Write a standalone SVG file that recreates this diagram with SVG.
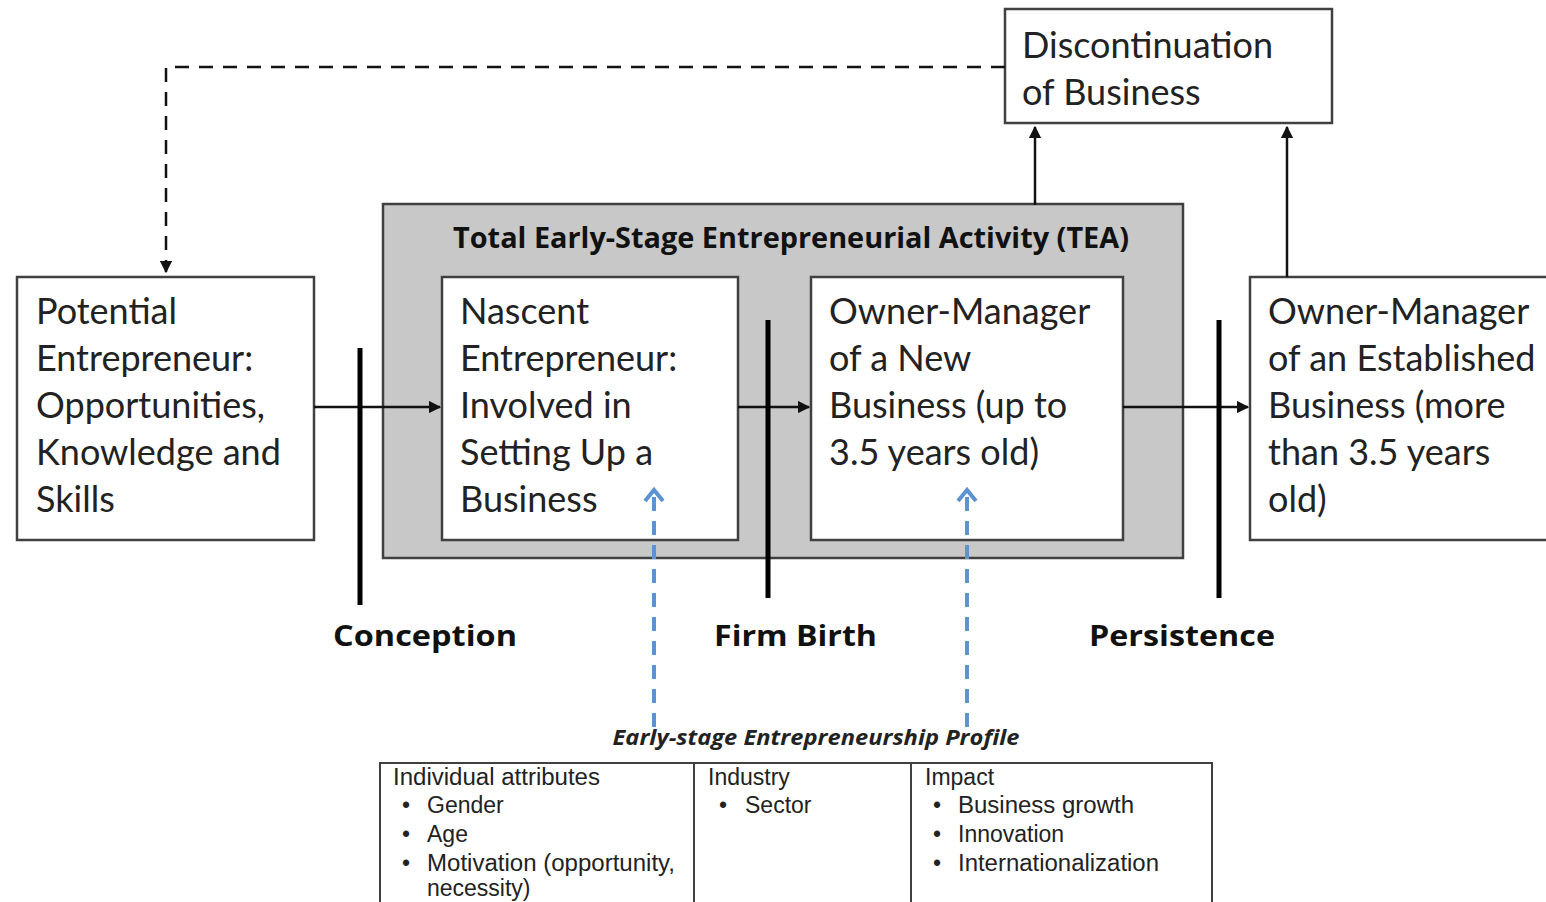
<svg xmlns="http://www.w3.org/2000/svg" width="1546" height="902" viewBox="0 0 1546 902">
<defs>
<style>
.box{fill:#fff;stroke:#404040;stroke-width:2.5}
.t{font-family:Lato,"Open Sans",sans-serif;font-size:36px;fill:#222}
.b{font-family:"Open Sans",Lato,sans-serif;font-size:29px;font-weight:bold;fill:#111}
.tb{font-family:"Liberation Sans",Arial,sans-serif;font-size:23px;fill:#222}
.ln{stroke:#111;stroke-width:2.5;fill:none}
.bar{stroke:#000;stroke-width:5}
.blue{stroke:#5b93d3;stroke-width:4;fill:none}
</style>
<marker id="ah" viewBox="0 0 10 10" refX="9" refY="5" markerWidth="5" markerHeight="5" orient="auto"><path d="M0,0 L10,5 L0,10 z" fill="#111"/></marker>
<marker id="ahb" viewBox="0 0 10 10" refX="8" refY="5" markerWidth="4" markerHeight="4" orient="auto"><path d="M1,1 L8,5 L1,9" fill="none" stroke="#5b93d3" stroke-width="2"/></marker>
</defs>
<rect width="1546" height="902" fill="#fff"/>

<g id="tea">
<rect x="383" y="204" width="800" height="354" fill="#c8c8c8" stroke="#404040" stroke-width="2.5"/>
<text class="b" x="791" y="248" text-anchor="middle" font-size="27" textLength="676" lengthAdjust="spacingAndGlyphs">Total Early-Stage Entrepreneurial Activity (TEA)</text>
</g>

<g id="potential">
<rect class="box" x="17" y="277" width="297" height="263"/>
<text class="t" x="36" y="324">Potential</text>
<text class="t" x="36" y="371">Entrepreneur:</text>
<text class="t" x="36" y="418">Opportunities,</text>
<text class="t" x="36" y="465">Knowledge and</text>
<text class="t" x="36" y="512">Skills</text>
</g>

<g id="nascent">
<rect class="box" x="442" y="277" width="296" height="263"/>
<text class="t" x="460" y="324">Nascent</text>
<text class="t" x="460" y="371">Entrepreneur:</text>
<text class="t" x="460" y="418">Involved in</text>
<text class="t" x="460" y="465">Setting Up a</text>
<text class="t" x="460" y="512">Business</text>
</g>

<g id="newbiz">
<rect class="box" x="811" y="277" width="312" height="263"/>
<text class="t" x="829" y="324">Owner-Manager</text>
<text class="t" x="829" y="371">of a New</text>
<text class="t" x="829" y="418">Business (up to</text>
<text class="t" x="829" y="465">3.5 years old)</text>
</g>

<g id="established">
<rect class="box" x="1250" y="277" width="310" height="263"/>
<text class="t" x="1268" y="324">Owner-Manager</text>
<text class="t" x="1268" y="371">of an Established</text>
<text class="t" x="1268" y="418">Business (more</text>
<text class="t" x="1268" y="465">than 3.5 years</text>
<text class="t" x="1268" y="512">old)</text>
</g>

<g id="discontinuation">
<rect class="box" x="1005" y="9" width="327" height="114"/>
<text class="t" x="1022" y="58">Discontinuation</text>
<text class="t" x="1022" y="105">of Business</text>
</g>

<g id="connectors">
<path class="ln" d="M1005,67 H166 V272" stroke-dasharray="14,10" stroke-width="3" marker-end="url(#ah)"/>
<line class="ln" x1="314" y1="407" x2="440" y2="407" marker-end="url(#ah)"/>
<line class="ln" x1="738" y1="407" x2="809" y2="407" marker-end="url(#ah)"/>
<line class="ln" x1="1123" y1="407" x2="1248" y2="407" marker-end="url(#ah)"/>
<line class="ln" x1="1035" y1="205" x2="1035" y2="127" stroke-width="3" marker-end="url(#ah)"/>
<line class="ln" x1="1287" y1="277" x2="1287" y2="127" stroke-width="3" marker-end="url(#ah)"/>
<line class="blue" x1="654" y1="727" x2="654" y2="492" stroke-dasharray="14,10"/>
<path class="blue" d="M645,501 L654,490 L663,501"/>
<line class="blue" x1="967" y1="727" x2="967" y2="492" stroke-dasharray="14,10"/>
<path class="blue" d="M958,501 L967,490 L976,501"/>
</g>

<g id="bars">
<line class="bar" x1="360" y1="348" x2="360" y2="605"/>
<line class="bar" x1="768" y1="320" x2="768" y2="598"/>
<line class="bar" x1="1219" y1="320" x2="1219" y2="598"/>
<text class="b" x="333" y="646" textLength="184" lengthAdjust="spacingAndGlyphs">Conception</text>
<text class="b" x="714" y="646" textLength="163" lengthAdjust="spacingAndGlyphs">Firm Birth</text>
<text class="b" x="1089" y="646" textLength="186" lengthAdjust="spacingAndGlyphs">Persistence</text>
</g>

<g id="profile">
<text x="816" y="745" text-anchor="middle" font-family="'Open Sans',Lato,sans-serif" font-size="21" font-weight="bold" font-style="italic" fill="#222" textLength="407" lengthAdjust="spacingAndGlyphs">Early-stage Entrepreneurship Profile</text>
<rect x="380" y="763" width="832" height="150" fill="#fff" stroke="#404040" stroke-width="2"/>
<line x1="694" y1="763" x2="694" y2="902" stroke="#404040" stroke-width="2"/>
<line x1="911" y1="763" x2="911" y2="902" stroke="#404040" stroke-width="2"/>
<text class="tb" x="393" y="785" textLength="207" lengthAdjust="spacingAndGlyphs">Individual attributes</text>
<text class="tb" x="402" y="813">•</text><text class="tb" x="427" y="813">Gender</text>
<text class="tb" x="402" y="842">•</text><text class="tb" x="427" y="842">Age</text>
<text class="tb" x="402" y="871">•</text><text class="tb" x="427" y="871" textLength="248" lengthAdjust="spacingAndGlyphs">Motivation (opportunity,</text>
<text class="tb" x="427" y="896">necessity)</text>
<text class="tb" x="708" y="785">Industry</text>
<text class="tb" x="719" y="813">•</text><text class="tb" x="745" y="813">Sector</text>
<text class="tb" x="925" y="785">Impact</text>
<text class="tb" x="933" y="813">•</text><text class="tb" x="958" y="813" textLength="176" lengthAdjust="spacingAndGlyphs">Business growth</text>
<text class="tb" x="933" y="842">•</text><text class="tb" x="958" y="842">Innovation</text>
<text class="tb" x="933" y="871" >•</text><text class="tb" x="958" y="871" textLength="201" lengthAdjust="spacingAndGlyphs">Internationalization</text>
</g>
</svg>
